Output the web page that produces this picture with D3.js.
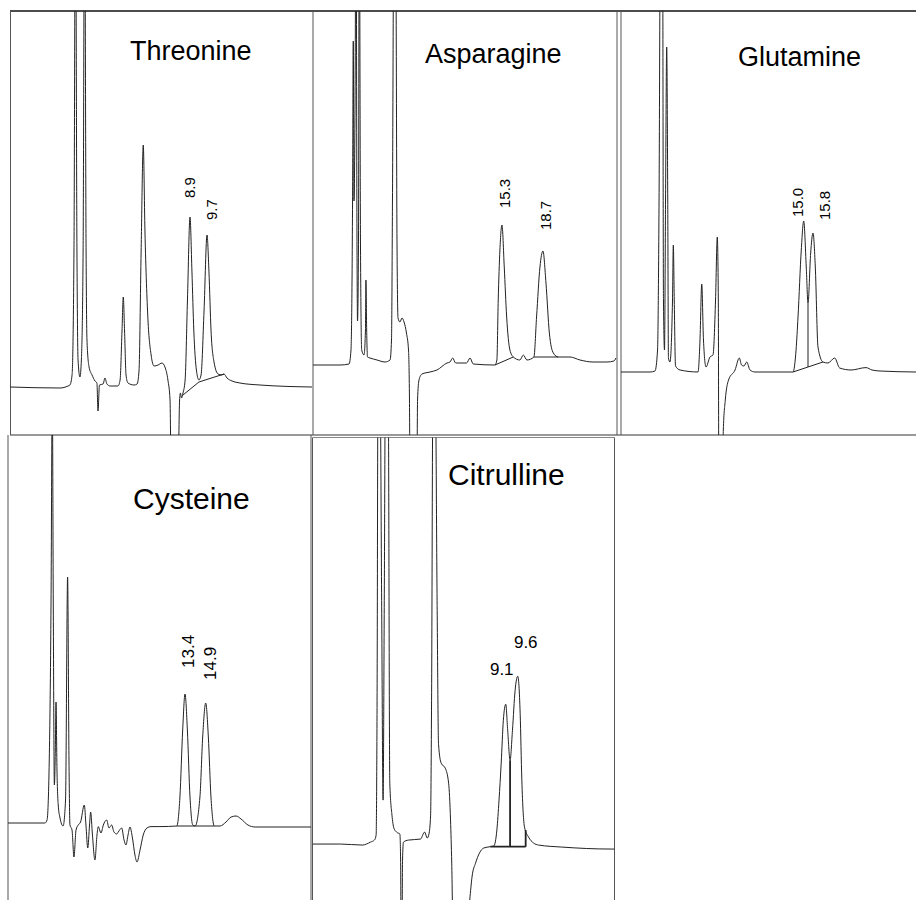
<!DOCTYPE html>
<html>
<head>
<meta charset="utf-8">
<script src="https://cdn.jsdelivr.net/npm/d3@7"></script>
<style>
  body { margin: 0; background: #fff; }
  svg { display: block; }
  text { font-family: "Liberation Sans", Arial, sans-serif; fill: #000; }
</style>
</head>
<body>
<div id="chart"></div>
<script>
// panel names (amino acids)
const panelNames = ["Threonine", "Asparagine", "Glutamine", "Cysteine", "Citrulline"];

// retention time (min) shown by each frame, and signal range (arbitrary units)
const timeDomains = [[0.43, 14.64], [-0.37, 24.84], [-0.75, 24.68], [0.57, 22.53], [1.05, 13.63]];
const signalDomains = [[-12, 94], [-17.5, 88.5], [-15.75, 90.25], [-19.25, 97], [-14, 101.75]];

// traces: [time, signal]
const threonineTrace = [
  [0.43,0],[2.78,-0.25],[3.16,0.25],[3.25,0.5],[3.35,3],[3.44,34],[3.51,130],[3.58,34],[3.63,7],[3.72,2.5],
  [3.79,7],[3.87,34],[3.94,130],[4.01,34],[4.05,12],[4.15,5],[4.29,3],[4.43,1.5],[4.52,1],[4.57,-6],
  [4.64,0.5],[4.81,0.75],[4.9,2.25],[4.99,0.75],[5.14,0.25],[5.51,0.25],[5.61,1.75],[5.7,14],[5.76,22.5],[5.82,14],
  [5.89,3],[5.98,1],[6.27,0.5],[6.41,0.75],[6.5,4],[6.6,34],[6.7,60.5],[6.78,39],[6.92,17],[7.07,8],
  [7.21,5.25],[7.4,5.5],[7.58,6],[7.72,5],[7.86,1.75],[7.96,-3.25],[8.01,-20],[8.34,-20],[8.41,-3.25],[8.45,-1.5],
  [8.5,-2.75],[8.57,-1.5],[8.67,1.75],[8.78,21.75],[8.9,42.5],[8.99,29],[9.08,14],[9.2,4.25],[9.32,1.75],[9.42,3],
  [9.56,19],[9.7,38],[9.79,29],[9.89,14],[10.03,6.25],[10.22,3.25],[10.4,3],[10.5,3.25],[10.64,2.25],[10.88,1.5],
  [11.25,1],[12.19,0.5],[14.64,0]
];
const asparagineTrace = [
  [-0.37,0],[1.87,0],[2.62,0.25],[2.78,3.75],[2.91,41],[2.97,81],[3.03,41],[3.11,61],[3.2,120],[3.28,29],
  [3.32,11],[3.4,29],[3.47,120],[3.57,29],[3.67,3.75],[3.86,2.5],[3.98,8.75],[4.02,21.25],[4.08,8.75],[4.15,2],
  [4.36,1.75],[4.94,1.25],[5.6,0.75],[6.02,1.25],[6.14,6.25],[6.22,41],[6.35,120],[6.47,120],[6.6,29],[6.68,11.75],
  [6.84,10.75],[7.01,11.75],[7.18,10.75],[7.38,8],[7.55,3.75],[7.63,-8.75],[7.67,-25],[8.25,-25],[8.3,-8.75],[8.42,-3.75],
  [8.67,-2.25],[9.33,-1.75],[9.91,-1.25],[10.74,0.5],[10.99,0.75],[11.21,1.75],[11.46,0.5],[12.37,0.5],[12.65,1.75],[12.92,0.25],
  [14.72,0],[14.88,1.25],[14.99,16.25],[15.13,28.75],[15.3,35],[15.49,24.5],[15.69,12],[15.96,3.75],[16.24,2],[16.79,1.25],
  [17.07,2.5],[17.37,1.25],[17.95,2],[18.17,12],[18.45,24.5],[18.7,28.5],[18.95,20.5],[19.23,8],[19.56,3],[19.97,2],
  [20.94,2],[21.77,1.25],[22.85,0.75],[24.0,0.75],[24.59,1],[24.75,1.75]
];
const glutamineTrace = [
  [-0.75,0],[1.75,0],[2.18,0.25],[2.4,5.5],[2.53,43],[2.66,120],[2.83,120],[2.91,18],[3.0,5.5],[3.09,43],
  [3.19,81.25],[3.28,43],[3.34,3.5],[3.47,2.5],[3.69,18],[3.76,31.75],[3.84,18],[3.95,1.5],[4.34,0.5],[5.89,0],
  [6.06,8],[6.21,22],[6.36,8],[6.58,1.25],[6.92,3.75],[7.18,4.25],[7.4,18],[7.55,33.75],[7.64,18],[7.68,-25],
  [8.02,-25],[8.07,-14.5],[8.24,-7],[8.52,-2],[9.08,0.5],[9.45,3.5],[9.64,1.75],[9.85,1.5],[10.09,2.5],[10.37,0.5],
  [10.8,0],[14.08,0],[14.34,5.5],[14.51,13.75],[14.79,30.5],[15.0,37.75],[15.22,26.25],[15.37,17.25],[15.6,29.75],[15.8,34.75],
  [16.0,26.25],[16.23,6.25],[16.66,2.5],[17.09,2.25],[17.67,3.5],[18.1,1],[19.08,0.5],[20.37,1.1],[20.89,0.5],[21.58,0.25],
  [24.68,0]
];
const cysteineTrace = [
  [0.57,0],[3.25,0],[3.4,0.75],[3.56,15.75],[3.69,55.75],[3.78,110],[3.85,55.75],[3.93,9.5],[4.0,18.25],[4.05,30.25],
  [4.12,13.25],[4.21,4.5],[4.34,1.25],[4.56,-0.75],[4.74,5.75],[4.89,61.5],[4.99,15.75],[5.06,-0.5],[5.21,-1.75],[5.35,-8.5],
  [5.5,-1.75],[5.66,-0.5],[5.83,0.25],[6.1,4.5],[6.22,-0.5],[6.35,-6.25],[6.48,-0.5],[6.56,2.75],[6.69,-3],[6.87,-9.25],
  [7.02,-3],[7.11,-0.9],[7.31,-2.5],[7.48,-0.5],[7.72,0.75],[7.89,-1.25],[8.08,-0.5],[8.25,-2.25],[8.45,-2.75],[8.56,-2.25],
  [8.81,-1.25],[8.98,-4.25],[9.12,-5.5],[9.27,-3],[9.41,-1],[9.59,-3.75],[9.77,-8],[9.92,-9.75],[10.14,-6.75],[10.37,-3],
  [10.64,-1.25],[10.93,-0.9],[11.58,-0.9],[12.8,-0.75],[13.03,6.5],[13.23,23.25],[13.4,32.25],[13.57,23.25],[13.76,6.5],[13.96,-0.5],
  [14.13,-0.75],[14.48,6.5],[14.68,21.5],[14.9,30],[15.09,21.5],[15.28,6.5],[15.52,-0.75],[15.94,-0.75],[16.37,0.25],[16.74,1.5],
  [17.1,1.75],[17.46,1],[17.96,-0.5],[18.47,-1],[22.31,-1],[22.53,-1]
];
const citrullineTrace = [
  [1.05,0],[2.22,0],[3.13,-0.25],[3.47,0.5],[3.63,1],[3.7,2.25],[3.74,36],[3.78,120],[3.86,120],[3.93,61],
  [3.99,11],[4.04,61],[4.09,120],[4.2,120],[4.27,15.25],[4.36,7.25],[4.44,4],[4.55,3],[4.69,2.5],[4.72,-4],
  [4.74,-20],[4.78,-20],[4.8,-4],[4.84,0.5],[5.05,1],[5.55,1.25],[5.72,3],[5.83,1.5],[5.9,2.5],[5.97,7.25],
  [6.01,36],[6.07,120],[6.16,120],[6.24,61],[6.3,25],[6.41,20.25],[6.58,19],[6.72,15.25],[6.8,6],[6.85,-4.75],
  [6.9,-20],[7.51,-20],[7.6,-14],[7.7,-8],[7.84,-4.8],[8.18,-1],[8.46,-0.65],[8.6,-0.5],[8.73,3.5],[8.82,11],
  [8.91,20.25],[9.0,31],[9.1,35],[9.18,28.5],[9.28,21],[9.38,28.5],[9.49,38.5],[9.6,42],[9.7,32.75],[9.77,16],
  [9.88,4.25],[10.05,1.75],[10.26,0.25],[10.47,-0.25],[11.43,-0.75],[13.51,-1.25],[13.63,-1.25]
];
const traces = [threonineTrace, asparagineTrace, glutamineTrace, cysteineTrace, citrullineTrace];

// labelled peaks: retention time and apex height
const threoninePeaks = [{ label: "8.9", time: 8.9, height: 42.5 }, { label: "9.7", time: 9.7, height: 38 }];
const asparaginePeaks = [{ label: "15.3", time: 15.3, height: 35 }, { label: "18.7", time: 18.7, height: 28.5 }];
const glutaminePeaks = [{ label: "15.0", time: 15.0, height: 37.75 }, { label: "15.8", time: 15.8, height: 34.75 }];
const cysteinePeaks = [{ label: "13.4", time: 13.4, height: 32.25 }, { label: "14.9", time: 14.9, height: 30 }];
const citrullinePeaks = [{ label: "9.1", time: 9.1, height: 35 }, { label: "9.6", time: 9.6, height: 42 }];
const peaks = [threoninePeaks, asparaginePeaks, glutaminePeaks, cysteinePeaks, citrullinePeaks];

// integration baselines / drop lines drawn by the integrator
const integrationLines = [
  [[[8.57,-2],[9.32,1.25],[10.5,3.25]]],
  [[[14.72,0],[16.24,2]], [[17.95,2],[19.97,2]]],
  [[[14.08,0],[16.66,2.5]], [[15.37,1.25],[15.37,17.25]]],
  [[[12.8,-0.75],[15.52,-0.75]]],
  [[[8.46,-0.65],[9.93,-0.65]], [[9.28,-0.65],[9.28,21]], [[9.93,-0.65],[9.93,3.5]]]
];

// ---- layout ----
const width = 916, height = 900;
const panelBoxes = [
  { x0: 10, x1: 312, y0: 11, y1: 435 },
  { x0: 313, x1: 617, y0: 11, y1: 435 },
  { x0: 621, x1: 916, y0: 11, y1: 435 },
  { x0: 8, x1: 311, y0: 435, y1: 900 },
  { x0: 312.5, x1: 614.5, y0: 437.5, y1: 900 }
];
const titlePos = [[130, 60, 27], [425, 63, 27], [738, 66, 27], [133, 509, 30], [448, 485, 30]];
const labelSize = [15, 15, 15, 17, 17];
const labelRotated = [true, true, true, true, false];
const labelOffsets = [[[0, 19], [5, 15]], [[3, 17], [3, 21]], [[-6, 4], [12, 13]], [[3, 26], [4, 23]], [[-4, 29], [8, 28]]];

const svg = d3.select("#chart").append("svg")
  .attr("width", width)
  .attr("height", height);

// frame lines
const frame = svg.append("g").attr("fill", "none");
frame.append("line").attr("x1", 10).attr("x2", width).attr("y1", 11).attr("y2", 11)
  .attr("stroke", "#111").attr("stroke-width", 1.5);
frame.append("line").attr("x1", 10).attr("x2", width).attr("y1", 435).attr("y2", 435)
  .attr("stroke", "#777").attr("stroke-width", 1.5);
[[10.5, 11, 435], [313, 11, 435], [617, 11, 435], [621, 11, 435],
 [8, 435, 900], [311, 435, 900], [312.5, 437.5, 900], [614.5, 437.5, 900]].forEach((v) => {
  frame.append("line").attr("x1", v[0]).attr("x2", v[0]).attr("y1", v[1]).attr("y2", v[2])
    .attr("stroke", "#555").attr("stroke-width", 1);
});
frame.append("line").attr("x1", 312.5).attr("x2", 614.5).attr("y1", 437.5).attr("y2", 437.5)
  .attr("stroke", "#888").attr("stroke-width", 1);

panelNames.forEach((name, i) => {
  const box = panelBoxes[i];
  const x = d3.scaleLinear().domain(timeDomains[i]).range([box.x0, box.x1]);
  const y = d3.scaleLinear().domain(signalDomains[i]).range([box.y1, box.y0]);

  svg.append("clipPath").attr("id", "clip" + i)
    .append("rect")
    .attr("x", box.x0).attr("y", box.y0)
    .attr("width", box.x1 - box.x0).attr("height", box.y1 - box.y0);

  const g = svg.append("g").attr("clip-path", `url(#clip${i})`);

  const line = d3.line()
    .x((d) => x(d[0]))
    .y((d) => y(d[1]))
    .curve(d3.curveMonotoneX);

  g.append("path")
    .datum(traces[i])
    .attr("d", line)
    .attr("fill", "none")
    .attr("stroke", "#222")
    .attr("stroke-width", 1);

  // integrator baselines
  g.selectAll("path.base")
    .data(integrationLines[i])
    .enter()
    .append("path")
    .attr("class", "base")
    .attr("d", d3.line().x((d) => x(d[0])).y((d) => y(d[1])))
    .attr("fill", "none")
    .attr("stroke", "#222")
    .attr("stroke-width", i === 4 ? 1.8 : 1);

  // title
  svg.append("text")
    .attr("x", titlePos[i][0])
    .attr("y", titlePos[i][1])
    .attr("font-size", titlePos[i][2])
    .text(name);

  // peak labels
  peaks[i].forEach((p, j) => {
    const off = labelOffsets[i][j];
    const px = x(p.time) + off[0];
    const py = y(p.height) - off[1];
    const t = svg.append("text")
      .attr("font-size", labelSize[i])
      .text(p.label);
    if (labelRotated[i]) {
      t.attr("transform", `translate(${px},${py}) rotate(-90)`)
        .attr("text-anchor", "start")
        .attr("dy", "0.35em");
    } else {
      t.attr("x", px).attr("y", py).attr("text-anchor", "middle");
    }
  });
});
</script>
</body>
</html>
